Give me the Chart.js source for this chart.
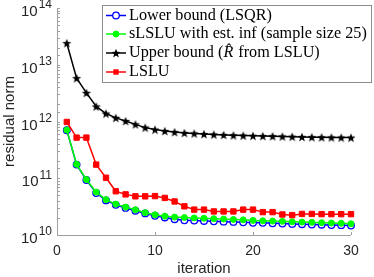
<!DOCTYPE html>
<html>
<head>
<meta charset="utf-8">
<script src="https://cdn.jsdelivr.net/npm/chart.js@4.4.0/dist/chart.umd.min.js"></script>
<style>
  html, body { margin: 0; padding: 0; background: #fff; }
  #wrap { width: 374px; height: 277px; }
</style>
</head>
<body>
<div id="wrap"><canvas id="chart" width="374" height="277"></canvas></div>
<script>
// iterations 1..30
const iterations = Array.from({ length: 30 }, (_, i) => i + 1);

const lowerLSQR = [7.0e11, 1.74e11, 9.3e10, 5.5e10, 4.07e10, 3.4e10, 3.0e10, 2.68e10, 2.4e10, 2.18e10,
  2.04e10, 1.9e10, 1.82e10, 1.8e10, 1.77e10, 1.74e10, 1.72e10, 1.7e10, 1.67e10, 1.64e10,
  1.64e10, 1.61e10, 1.59e10, 1.57e10, 1.55e10, 1.53e10, 1.52e10, 1.5e10, 1.49e10, 1.47e10];
const sLSLU = [7.1e11, 1.76e11, 9.5e10, 5.7e10, 4.2e10, 3.5e10, 3.1e10, 2.78e10, 2.47e10, 2.27e10,
  2.15e10, 2.07e10, 2.03e10, 2.0e10, 1.97e10, 1.94e10, 1.91e10, 1.88e10, 1.85e10, 1.81e10,
  1.78e10, 1.76e10, 1.74e10, 1.71e10, 1.69e10, 1.67e10, 1.65e10, 1.63e10, 1.61e10, 1.58e10];
const upperBound = [2.4e13, 5.8e12, 3.2e12, 1.84e12, 1.38e12, 1.16e12, 1.02e12, 8.9e11, 7.8e11, 7.2e11,
  6.8e11, 6.5e11, 6.3e11, 6.15e11, 6.0e11, 5.9e11, 5.8e11, 5.7e11, 5.65e11, 5.6e11,
  5.55e11, 5.5e11, 5.45e11, 5.4e11, 5.35e11, 5.3e11, 5.27e11, 5.24e11, 5.22e11, 5.2e11];
const lslu = [9.8e11, 5.2e11, 5.2e11, 1.74e11, 1.02e11, 5.9e10, 5.2e10, 4.8e10, 4.8e10, 4.85e10,
  4.5e10, 3.9e10, 3.2e10, 2.8e10, 2.8e10, 2.6e10, 2.6e10, 2.6e10, 2.8e10, 2.8e10,
  2.53e10, 2.53e10, 2.3e10, 2.24e10, 2.35e10, 2.35e10, 2.33e10, 2.33e10, 2.33e10, 2.33e10];

const xTicks = [0, 10, 20, 30];
const yDecades = [10, 11, 12, 13, 14];

const axisColor = '#a0a0a0';
const textColor = '#262626';

// filled five point star marker (matlab pentagram)
function makeStar(r, color) {
  const s = Math.ceil(r * 2 + 2);
  const c = document.createElement('canvas');
  c.width = s; c.height = s;
  const g = c.getContext('2d');
  g.fillStyle = color;
  g.beginPath();
  for (let i = 0; i < 10; i++) {
    const ang = -Math.PI / 2 + i * Math.PI / 5;
    const rr = i % 2 === 0 ? r : r * 0.42;
    g.lineTo(s / 2 + rr * Math.cos(ang), s / 2 + rr * Math.sin(ang) + 0.5);
  }
  g.closePath();
  g.fill();
  return c;
}
const star = makeStar(4.8, '#000');

function pts(arr) {
  return arr.map((v, i) => ({ x: iterations[i], y: v }));
}

const datasets = [
  { label: 'Lower bound (LSQR)', data: pts(lowerLSQR), borderColor: '#0000ff', backgroundColor: '#ffffff',
    pointStyle: 'circle', pointRadius: 3.3, pointBorderWidth: 1.3, borderWidth: 1.5, order: 4 },
  { label: 'sLSLU with est. inf (sample size 25)', data: pts(sLSLU), borderColor: '#00ff00', backgroundColor: '#00ff00',
    pointStyle: 'circle', pointRadius: 3, pointBorderWidth: 1, borderWidth: 1.5, order: 3 },
  { label: 'Upper bound', data: pts(upperBound), borderColor: '#000000', backgroundColor: '#000000',
    pointStyle: star, pointRadius: 4.8, borderWidth: 1.5, order: 2 },
  { label: 'LSLU', data: pts(lslu), borderColor: '#ff0000', backgroundColor: '#ff0000',
    pointStyle: 'rect', pointRadius: 3.8, pointBorderWidth: 1, borderWidth: 1.5, order: 1 }
];
datasets.forEach(d => { d.clip = false; d.tension = 0; d.fill = false; });

function drawMarker(ctx, d, x, y) {
  ctx.save();
  if (d.pointStyle instanceof HTMLCanvasElement) {
    ctx.drawImage(d.pointStyle, x - d.pointStyle.width / 2, y - d.pointStyle.height / 2);
  } else if (d.pointStyle === 'rect') {
    const s = Math.SQRT1_2 * d.pointRadius;
    ctx.fillStyle = d.backgroundColor;
    ctx.fillRect(x - s, y - s, 2 * s, 2 * s);
  } else {
    ctx.beginPath();
    ctx.arc(x, y, d.pointRadius, 0, Math.PI * 2);
    ctx.fillStyle = d.backgroundColor;
    ctx.fill();
    ctx.lineWidth = d.pointBorderWidth;
    ctx.strokeStyle = d.borderColor;
    ctx.stroke();
  }
  ctx.restore();
}

const matlabAxes = {
  id: 'matlabAxes',
  beforeDatasetsDraw(chart) {
    const { ctx, chartArea: a, scales: { x, y } } = chart;
    ctx.save();
    ctx.strokeStyle = axisColor;
    ctx.lineWidth = 1;
    ctx.beginPath();
    ctx.moveTo(a.left + 0.5, a.top);
    ctx.lineTo(a.left + 0.5, a.bottom + 0.5);
    ctx.lineTo(a.right, a.bottom + 0.5);
    // y ticks (inward)
    y.ticks.forEach(t => {
      const py = Math.round(y.getPixelForValue(t.value)) + 0.5;
      ctx.moveTo(a.left, py);
      ctx.lineTo(a.left + 3, py);
    });
    xTicks.forEach(v => {
      const px = Math.round(x.getPixelForValue(v)) + 0.5;
      ctx.moveTo(px, a.bottom);
      ctx.lineTo(px, a.bottom - 3);
    });
    ctx.stroke();

    // tick labels
    ctx.fillStyle = textColor;
    ctx.font = '14px "Liberation Sans", Arial, sans-serif';
    ctx.textAlign = 'center';
    ctx.textBaseline = 'middle';
    xTicks.forEach(v => ctx.fillText(String(v), x.getPixelForValue(v), a.bottom + 16));

    yDecades.forEach(e => {
      const py = y.getPixelForValue(Math.pow(10, e));
      ctx.textAlign = 'right';
      ctx.font = '12px "Liberation Sans", Arial, sans-serif';
      ctx.fillText(String(e), a.left - 5, py - 3);
      const ew = ctx.measureText(String(e)).width;
      ctx.font = '15px "Liberation Sans", Arial, sans-serif';
      ctx.fillText('10', a.left - 6 - ew, py + 4);
    });

    // axis titles
    ctx.font = '15px "Liberation Sans", Arial, sans-serif';
    ctx.textAlign = 'center';
    ctx.fillText('iteration', (a.left + a.right) / 2, 269);
    ctx.save();
    ctx.translate(10, (a.top + a.bottom) / 2);
    ctx.rotate(-Math.PI / 2);
    ctx.fillText('residual norm', 0, 0);
    ctx.restore();
    ctx.restore();
  },
  afterDraw(chart) {
    const { ctx } = chart;
    const box = { x: 102.5, y: 5.5, w: 269, h: 77 };
    ctx.save();
    ctx.fillStyle = '#fff';
    ctx.fillRect(box.x, box.y, box.w, box.h);
    ctx.strokeStyle = '#8c8c8c';
    ctx.lineWidth = 1;
    ctx.strokeRect(box.x, box.y, box.w, box.h);
    const rows = [15.5, 34, 53, 72];
    const fs = 16.2;
    const font = fs + 'px "Liberation Serif", "Times New Roman", serif';
    ctx.font = font;
    ctx.textBaseline = 'middle';
    ctx.textAlign = 'left';
    datasets.forEach((d, i) => {
      const ry = rows[i];
      ctx.strokeStyle = d.borderColor;
      ctx.lineWidth = d.borderWidth;
      ctx.beginPath();
      ctx.moveTo(106, ry);
      ctx.lineTo(126, ry);
      ctx.stroke();
      drawMarker(ctx, d, 116, ry);
      ctx.fillStyle = '#000';
      if (i === 2) {
        let tx = 129;
        ctx.fillText('Upper bound (', tx, ry);
        tx += ctx.measureText('Upper bound (').width;
        ctx.font = 'italic ' + font;
        ctx.fillText('R\u0302', tx, ry);
        tx += ctx.measureText('R').width + 1;
        ctx.font = font;
        ctx.fillText(' from LSLU)', tx, ry);
      } else {
        ctx.fillText(d.label, 129, ry);
      }
    });
    ctx.restore();
  }
};

new Chart(document.getElementById('chart'), {
  type: 'line',
  data: { datasets: datasets },
  options: {
    responsive: false,
    animation: false,
    devicePixelRatio: 1,
    layout: { padding: { top: 8, right: 23, left: 0, bottom: 0 } },
    plugins: { legend: { display: false }, tooltip: { enabled: false } },
    scales: {
      x: {
        type: 'linear', min: 0, max: 30,
        grid: { display: false }, border: { display: false },
        ticks: { display: false, stepSize: 10 },
        afterFit: s => { s.height = 42; }
      },
      y: {
        type: 'logarithmic', min: 1e10, max: 1e14,
        grid: { display: false }, border: { display: false },
        ticks: { display: false },
        afterFit: s => { s.width = 57; }
      }
    }
  },
  plugins: [matlabAxes]
});
</script>
</body>
</html>
